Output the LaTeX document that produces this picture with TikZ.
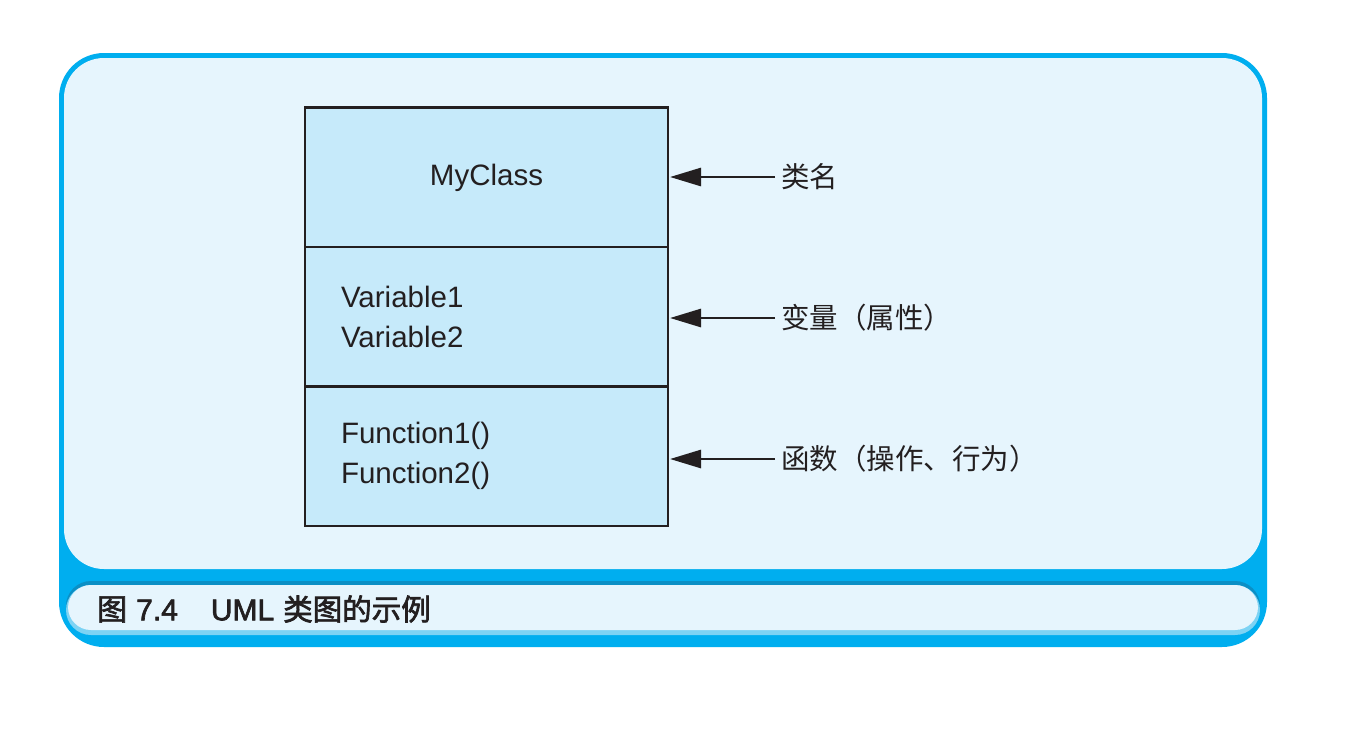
\documentclass[tikz,border=0pt]{standalone}
\usepackage{fontspec}
\setmainfont{Liberation Sans}
\newfontfamily\cjk{Noto Sans CJK SC}
\newfontfamily\capcjk[FakeBold=2.2]{Noto Sans CJK SC}
\newfontfamily\caplat[FakeBold=2.2]{Liberation Sans}
\usetikzlibrary{arrows.meta}
\definecolor{frameblue}{HTML}{00AEEF}
\definecolor{panelbg}{HTML}{E6F5FD}
\definecolor{boxbg}{HTML}{C6EAFA}
\definecolor{ink}{HTML}{231F20}
\definecolor{darkedge}{HTML}{0B8FC5}
\definecolor{lightedge}{HTML}{7DD3F4}
\tikzset{
  comp/.style={draw=ink, line width=2.5pt, fill=boxbg, minimum width=363pt, minimum height=139.4pt, text=ink, font=\fontsize{29.5}{40}\selectfont, inner sep=0pt, outer sep=0pt},
  listcomp/.style={comp, align=left, text width=291pt, inner xsep=36pt},
  lbl/.style={anchor=west, inner sep=0pt, text=ink, font=\cjk\fontsize{28.5}{34}\selectfont},
  arr/.style={draw=ink, line width=2.8pt, -{Triangle[length=31pt, width=18pt]}, shorten >=2pt}
}
\begin{document}
\begin{tikzpicture}[x=1pt, y=-1pt]
\fill[white] (0,0) rectangle (1346,734);
\useasboundingbox (0,0) rectangle (1346,734);
% frame
\fill[frameblue, rounded corners=45pt] (59,53) rectangle (1267,647);
\fill[panelbg, rounded corners=40pt] (64,58) rectangle (1262,569);
% caption panel
\fill[darkedge, rounded corners=25pt] (66,581) rectangle (1260,631);
\fill[lightedge, rounded corners=25pt] (66,585) rectangle (1260,635);
\fill[panelbg, rounded corners=23pt] (68,585) rectangle (1258,630);
\node[anchor=west, inner sep=0pt, text=ink, font=\caplat\fontsize{30}{34}\selectfont] (cap) at (97,609) {{\capcjk 图}\hspace{9pt}7.4\hspace{33pt}UML\hspace{9pt}{\capcjk\fontsize{29.5}{34}\selectfont 类图的示例}};
% class box
\node[comp] (cls) at (486.5,177.4) {MyClass};
\node[listcomp, anchor=north] (vars) at (cls.south) {Variable1\\Variable2};
\node[listcomp, anchor=north] (funcs) at (vars.south) {Function1()\\Function2()};
% labels
\node[lbl] (l1) at (781,177) {类名};
\node[lbl] (l2) at (781,318) {变量（属性）};
\node[lbl] (l3) at (781,459) {函数（操作、行为）};
\draw[arr] ([xshift=-6pt]l1.west) -- (cls.east |- l1.west);
\draw[arr] ([xshift=-6pt]l2.west) -- (vars.east |- l2.west);
\draw[arr] ([xshift=-6pt]l3.west) -- (funcs.east |- l3.west);
\end{tikzpicture}
\end{document}
